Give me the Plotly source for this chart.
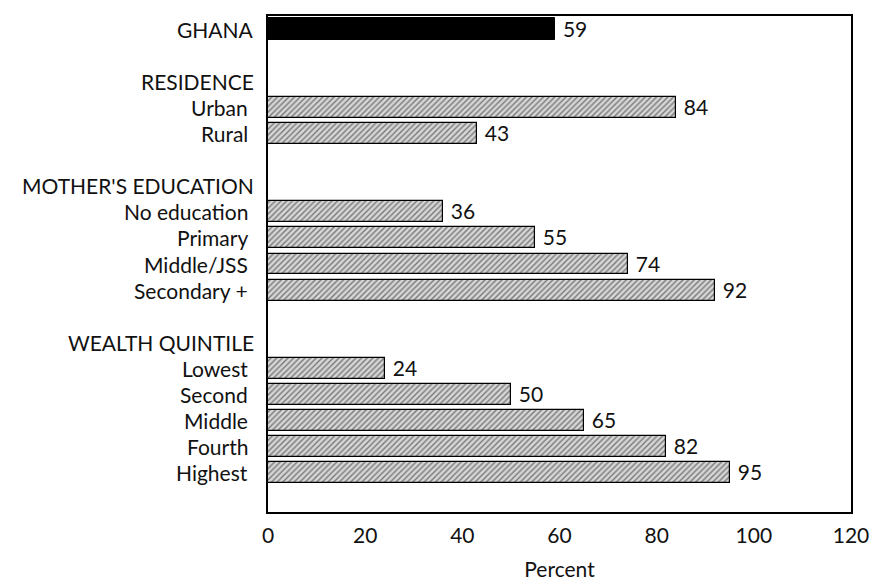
import plotly.graph_objects as go

national_label = "GHANA"
national_value = 59

group_titles = ["RESIDENCE", "MOTHER'S EDUCATION", "WEALTH QUINTILE"]
group_items = [
    ["Urban", "Rural"],
    ["No education", "Primary", "Middle/JSS", "Secondary +"],
    ["Lowest", "Second", "Middle", "Fourth", "Highest"],
]
group_values = [
    [84, 43],
    [36, 55, 74, 92],
    [24, 50, 65, 82, 95],
]

x_ticks = [0, 20, 40, 60, 80, 100, 120]
x_title = "Percent"

FONT = "Lato, 'Open Sans', sans-serif"
TXT = "#111111"
FS = 21

# build row positions: national row, blank, then each group title + items + blank
pos = 0
item_y, item_v, item_lab = [], [], []
title_y = []
pos += 2
for title, items, vals in zip(group_titles, group_items, group_values):
    title_y.append(pos)
    pos += 1
    for it, v in zip(items, vals):
        item_y.append(pos)
        item_v.append(v)
        item_lab.append(it)
        pos += 1
    pos += 1

NB = "\u00a0"

fig = go.Figure()
fig.add_trace(go.Bar(
    y=[0], x=[national_value], orientation="h", width=0.85,
    marker=dict(color="black", line=dict(color="black", width=1)),
    text=[NB + str(national_value)], textposition="outside", constraintext="none",
    textfont=dict(family=FONT, size=FS, color=TXT), cliponaxis=False,
))
fig.add_trace(go.Bar(
    y=item_y, x=item_v, orientation="h", width=0.8,
    marker=dict(color="#e0e0e0", line=dict(color="black", width=1.2),
                pattern=dict(shape="/", fgcolor="#1a1a1a", bgcolor="#d6d6d6",
                             size=4, solidity=0.35)),
    text=[NB + str(v) for v in item_v], textposition="outside", constraintext="none",
    textfont=dict(family=FONT, size=FS, color=TXT), cliponaxis=False,
))

annots = []
annots.append(dict(x=0, y=0, xref="paper", yref="y", text=national_label, showarrow=False,
                   xanchor="right", xshift=-12, font=dict(family=FONT, size=FS, color=TXT)))
for t, y in zip(group_titles, title_y):
    annots.append(dict(x=0, y=y, xref="paper", yref="y", text=t, showarrow=False,
                       xanchor="right", xshift=-12, font=dict(family=FONT, size=FS, color=TXT)))
for t, y in zip(item_lab, item_y):
    annots.append(dict(x=0, y=y, xref="paper", yref="y", text=t, showarrow=False,
                       xanchor="right", xshift=-18, font=dict(family=FONT, size=FS, color=TXT)))

fig.update_layout(
    width=871, height=581,
    margin=dict(l=268, r=20, t=16, b=69),
    paper_bgcolor="white", plot_bgcolor="white",
    showlegend=False, bargap=0,
    annotations=annots,
    font=dict(family=FONT, size=FS, color=TXT),
)
fig.update_xaxes(range=[0, 120], tickvals=x_ticks, ticktext=[str(t) for t in x_ticks],
                 showgrid=False, zeroline=False, showline=True, mirror=True, automargin=False,
                 linecolor="black", linewidth=1.5, ticks="", ticklabelstandoff=4,
                 tickfont=dict(family=FONT, size=FS, color=TXT),
                 title=dict(text=x_title, font=dict(family=FONT, size=FS, color=TXT), standoff=17))
fig.update_yaxes(range=[18.5, -0.5], showticklabels=False, showgrid=False, zeroline=False,
                 showline=True, mirror=True, automargin=False,
                 linecolor="black", linewidth=1.5, ticks="")

fig.write_html("out.html", config={"displayModeBar": False},
               post_script="document.body.style.margin='0px';")
